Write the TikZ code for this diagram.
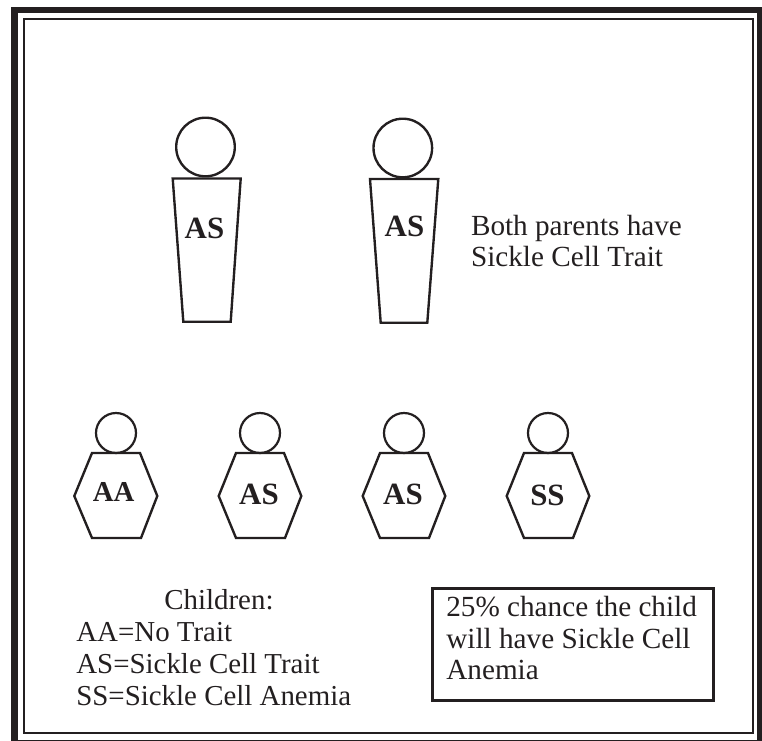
\documentclass[tikz,border=0pt]{standalone}
\usepackage{fontspec}
\setmainfont{Liberation Serif}
\usepackage{tikz}
\usetikzlibrary{positioning}
\definecolor{Ink}{HTML}{231F20}
\tikzset{
framethick/.style={draw=Ink, line width=3.7pt},
framethin/.style={draw=Ink, line width=1.4pt},
figline/.style={draw=Ink, line width=1.35pt, line join=miter},
bighead/.style={circle, draw=Ink, line width=1.35pt, minimum size=58.6*0.02cm, inner sep=0pt},
smallhead/.style={circle, draw=Ink, line width=1.25pt, minimum size=40*0.02cm, inner sep=0pt},
genotype/.style={font=\fontsize{17.6}{20}\selectfont\bfseries, text=Ink, inner sep=0pt, anchor=base},
plainlabel/.style={font=\fontsize{16.62}{18}\selectfont, text=Ink, inner sep=0pt, anchor=base west},
legendlabel/.style={font=\fontsize{16.45}{18}\selectfont, text=Ink, inner sep=0pt, anchor=base west},
chancebox/.style={draw=Ink, line width=1.4pt, minimum width=281.4*0.02cm, minimum height=112.4*0.02cm, inner sep=0pt}
}
\begin{document}
\begin{tikzpicture}[x=0.02cm, y=-0.02cm]
  \useasboundingbox (0,0) rectangle (762,741);
  % double frame
  \draw[framethick] (14.5,10) rectangle (760,743);
  \draw[framethin] (24,19) rectangle (753,733);
  % parents
  \node[bighead] (headleft) at (205.5,147) {};
  \draw[figline] (172.7,178.5) -- (240.7,178.5) -- (230.7,321.7) -- (183.3,321.7) -- cycle;
  \node[genotype] (parentleft) at (204.5,238) {AS};
  \node[bighead] (headright) at (402.8,148) {};
  \draw[figline] (370,179) -- (438.3,179) -- (427.3,322.7) -- (380.7,322.7) -- cycle;
  \node[genotype] (parentright) at (404.5,236) {AS};
  \node[plainlabel] (bothone) at (470.7,235) {Both parents have};
  \node[plainlabel] (bothtwo) at (470.7,266.7) {Sickle Cell Trait};
  % children
  \node[smallhead] (headaa) at (116,433) {};
  \draw[figline] (92,453) -- (140,453) -- (157.3,496) -- (141,538) -- (92,538) -- (74.3,496) -- cycle;
  \node[genotype] (childaa) at (113.7,501.7) {\fontsize{16.4}{18}\selectfont AA};
  \node[smallhead] (headasone) at (260,433) {};
  \draw[figline] (236,453) -- (284,453) -- (301.3,496) -- (285,538) -- (236,538) -- (218.7,496) -- cycle;
  \node[genotype] (childasone) at (259,504) {AS};
  \node[smallhead] (headastwo) at (404,433) {};
  \draw[figline] (380,453) -- (428,453) -- (445.3,496) -- (429,538) -- (380,538) -- (362.7,496) -- cycle;
  \node[genotype] (childastwo) at (403,504) {AS};
  \node[smallhead] (headss) at (548,433) {};
  \draw[figline] (524,453) -- (572,453) -- (589.3,496) -- (573,538) -- (524,538) -- (506.7,496) -- cycle;
  \node[genotype] (childss) at (547.5,505) {SS};
  % legend
  \node[legendlabel] (legendhead) at (164,609) {Children:};
  \node[legendlabel] (legendaa) at (76,641.7) {AA=No Trait};
  \node[legendlabel] (legendas) at (76,673) {AS=Sickle Cell Trait};
  \node[legendlabel] (legendss) at (76,705) {SS=Sickle Cell Anemia};
  % chance box
  \node[chancebox] (chance) at (573,644.5) {};
  \node[plainlabel] (chanceone) at (446,616) {25\% chance the child};
  \node[plainlabel] (chancetwo) at (446,648) {will have Sickle Cell};
  \node[plainlabel] (chancethree) at (446,679) {Anemia};
\end{tikzpicture}
\end{document}
